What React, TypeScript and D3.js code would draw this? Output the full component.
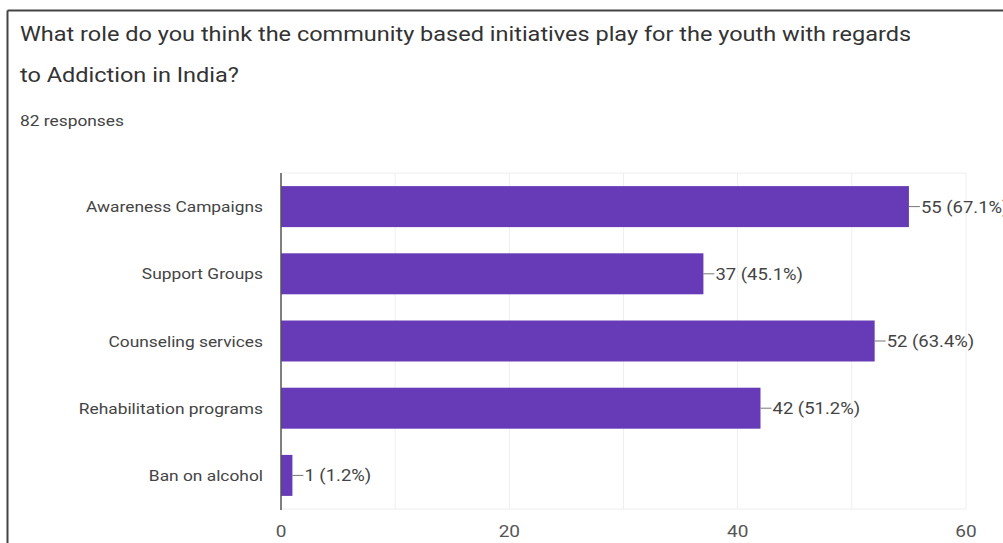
import React from "react";
import * as d3 from "d3";

const categories = [
  "Awareness Campaigns",
  "Support Groups",
  "Counseling services",
  "Rehabilitation programs",
  "Ban on alcohol",
];
const counts = [55, 37, 52, 42, 1];
const percents = ["67.1%", "45.1%", "63.4%", "51.2%", "1.2%"];
const xTickLabels = [0, 20, 40, 60];
const gridValues = [10, 20, 30, 40, 50, 60];
const titleLines = [
  "What role do you think the community based initiatives play for the youth with regards",
  "to Addiction in India?",
];
const subtitle = "82 responses";

const W = 1003;
const H = 543;
const font = "Roboto, 'Noto Sans', Arial, sans-serif";
const SX = 1.12;

function T(props: {
  x: number;
  y: number;
  size: number;
  fill: string;
  anchor?: string;
  dy?: string;
  children: React.ReactNode;
}) {
  return (
    <text
      transform={`translate(${props.x},${props.y}) scale(${SX},1)`}
      fontSize={props.size}
      fill={props.fill}
      textAnchor={props.anchor || "start"}
      dy={props.dy}
    >
      {props.children}
    </text>
  );
}

export default function App() {
  const plotLeft = 281;
  const plotRight = 966;
  const plotTop = 173;
  const plotBottom = 509;

  const x = d3.scaleLinear().domain([0, 60]).range([plotLeft, plotRight]);
  const y = d3
    .scaleBand<string>()
    .domain(categories)
    .range([plotTop, plotBottom])
    .paddingInner(0.39)
    .paddingOuter(0.195);

  return (
    <svg
      width={W}
      height={H}
      style={{ position: "absolute", left: 0, top: 0, background: "#fff" }}
      fontFamily={font}
    >
      <rect x={0} y={0} width={W} height={H} fill="#fff" />
      {/* frame */}
      <line x1={7.5} y1={10.5} x2={W} y2={10.5} stroke="#444" strokeWidth={2} />
      <line x1={7.5} y1={10.5} x2={7.5} y2={H} stroke="#444" strokeWidth={2} />

      {/* title */}
      {titleLines.map((t, i) => (
        <T key={i} x={20} y={41 + i * 41} size={21} fill="#333">
          {t}
        </T>
      ))}
      <T x={20} y={126} size={15.5} fill="#444">
        {subtitle}
      </T>

      {/* grid */}
      <line x1={plotLeft} x2={plotRight} y1={plotTop} y2={plotTop} stroke="#eeeeee" />
      <line x1={plotLeft} x2={plotRight} y1={plotBottom} y2={plotBottom} stroke="#eeeeee" />
      {gridValues.map((v) => (
        <line
          key={v}
          x1={x(v)}
          x2={x(v)}
          y1={plotTop}
          y2={plotBottom}
          stroke="#eeeeee"
        />
      ))}

      {/* bars */}
      {categories.map((c, i) => {
        const by = y(c)!;
        const bh = y.bandwidth();
        const xe = x(counts[i]);
        const cy = by + bh / 2;
        return (
          <g key={c}>
            <rect x={x(0)} y={by} width={xe - x(0)} height={bh} fill="#673ab7" />
            <line x1={xe} x2={xe + 11} y1={cy} y2={cy} stroke="#777" strokeWidth={1} />
            <T x={xe + 12} y={cy} dy="0.36em" size={16.5} fill="#444">
              {`${counts[i]} (${percents[i]})`}
            </T>
            <T x={plotLeft - 18} y={cy} dy="0.36em" anchor="end" size={15.5} fill="#444">
              {c}
            </T>
          </g>
        );
      })}

      {/* baseline axis */}
      <line x1={x(0)} x2={x(0)} y1={plotTop} y2={plotBottom + 1} stroke="#555" strokeWidth={1.5} />

      {/* x tick labels */}
      {xTickLabels.map((v) => (
        <T key={v} x={x(v)} y={537} anchor="middle" size={17} fill="#555">
          {v}
        </T>
      ))}
    </svg>
  );
}
